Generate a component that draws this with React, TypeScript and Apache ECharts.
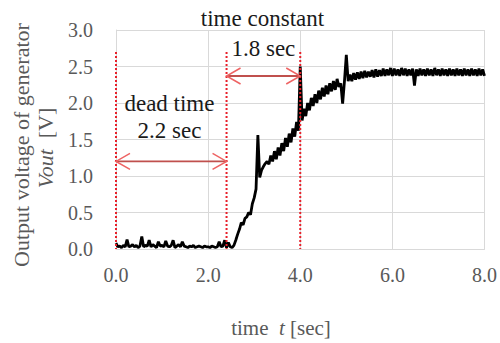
import React, { useEffect, useRef } from "react";
import * as echarts from "echarts";

// Sampling interval of the recorded trace [sec]
const SAMPLE_STEP = 0.04;

// Generator output voltage [V], one sample every SAMPLE_STEP seconds, from t = 0 to 8 s
const voltage: number[] = [
  // dead time (0 – 2.52 s)
  0.08, 0.03, 0.04, 0.02, 0.05, 0.03, 0.13, 0.03, 0.04, 0.06, 0.03, 0.05, 0.02, 0.04, 0.17, 0.03, 0.05, 0.04, 0.12, 0.03,
  0.06, 0.04, 0.02, 0.10, 0.04, 0.05, 0.03, 0.11, 0.04, 0.03, 0.05, 0.12, 0.02, 0.04, 0.06, 0.03, 0.10, 0.04, 0.03, 0.02,
  0.04, 0.03, 0.05, 0.02, 0.03, 0.04, 0.03, 0.02, 0.04, 0.03, 0.03, 0.02, 0.04, 0.03, 0.02, 0.03, 0.10, 0.03, 0.04, 0.12,
  0.02, 0.09, 0.03, 0.02,
  // rise (2.56 – 5.04 s)
  0.05, 0.12, 0.20, 0.27, 0.36, 0.33, 0.42, 0.44, 0.50, 0.47,
  0.62, 0.70, 0.82, 1.56, 0.98, 1.08, 1.13, 1.17, 1.20, 1.16,
  1.28, 1.20, 1.34, 1.23, 1.39, 1.28, 1.45, 1.34, 1.52, 1.40,
  1.58, 1.46, 1.65, 1.54, 1.74, 1.62, 2.50, 1.76, 1.92, 1.82,
  2.00, 1.90, 2.07, 1.96, 2.12, 2.00, 2.17, 2.05, 2.21, 2.09,
  2.24, 2.12, 2.27, 2.16, 2.30, 2.18, 2.33, 2.22, 2.27, 1.99,
  2.30, 2.66, 2.30,
  // steady state (5.08 – 8.0 s)
  2.39, 2.30, 2.41, 2.32, 2.42, 2.33, 2.43, 2.34, 2.44, 2.35,
  2.43, 2.36, 2.45, 2.35, 2.46, 2.36, 2.45, 2.37, 2.47, 2.37,
  2.46, 2.38, 2.48, 2.37, 2.47, 2.38, 2.46, 2.37, 2.48, 2.38,
  2.47, 2.37, 2.46, 2.38, 2.47, 2.24, 2.46, 2.37, 2.47, 2.38,
  2.46, 2.37, 2.47, 2.38, 2.46, 2.37, 2.48, 2.38, 2.46, 2.37,
  2.47, 2.38, 2.46, 2.37, 2.47, 2.38, 2.46, 2.37, 2.47, 2.38,
  2.46, 2.37, 2.47, 2.38, 2.46, 2.37, 2.47, 2.38, 2.46, 2.37,
  2.47, 2.38, 2.46, 2.37,
];

// Red dotted marker lines: time [sec] and height [V]
const markerTimes = [0.0, 2.4, 4.0];
const markerTop = 2.7;

// Double arrows: [start time, end time, level V]
const arrows: [number, number, number][] = [
  [0.0, 2.4, 1.2],
  [2.4, 4.0, 2.37],
];

// Annotation texts: [time, level, label]
const annotations: [number, number, string][] = [
  [3.18, 3.16, "time constant"],
  [3.2, 2.74, "1.8 sec"],
  [1.16, 1.99, "dead time"],
  [1.16, 1.62, "2.2 sec"],
];

const xTicks = { min: 0, max: 8, interval: 2 };
const yTicks = { min: 0, max: 3, interval: 0.5 };

const SERIF = "Liberation Serif";
const GRAY = "#595959";

export default function App() {
  const ref = useRef<HTMLDivElement>(null);

  useEffect(() => {
    if (!ref.current) return;
    const chart = echarts.init(ref.current, undefined, { renderer: "svg" });

    const trace = voltage.map((v, i) => [+(i * SAMPLE_STEP).toFixed(2), v]);

    chart.setOption({
      animation: false,
      backgroundColor: "#ffffff",
      textStyle: { fontFamily: SERIF },
      grid: { left: 116, right: 15, top: 30, bottom: 94 },
      xAxis: {
        type: "value",
        ...xTicks,
        axisLine: { show: true, lineStyle: { color: "#d9d9d9", width: 1 } },
        axisTick: { show: false },
        splitLine: { show: true, lineStyle: { color: "#d9d9d9", width: 1 } },
        axisLabel: {
          color: GRAY,
          fontFamily: SERIF,
          fontSize: 20,
          margin: 16,
          formatter: (v: number) => v.toFixed(1),
        },
      },
      yAxis: {
        type: "value",
        ...yTicks,
        axisLine: { show: true, lineStyle: { color: "#d9d9d9", width: 1 } },
        axisTick: { show: false },
        splitLine: { show: true, lineStyle: { color: "#d9d9d9", width: 1 } },
        axisLabel: {
          color: GRAY,
          fontFamily: SERIF,
          fontSize: 20,
          margin: 23,
          formatter: (v: number) => v.toFixed(1),
        },
      },
      graphic: [
        {
          type: "text",
          x: 21,
          y: 145,
          rotation: Math.PI / 2,
          style: {
            text: "Output voltage of generator",
            fill: GRAY,
            fontFamily: SERIF,
            fontSize: 22,
            align: "center",
            verticalAlign: "middle",
          },
        },
        {
          type: "text",
          x: 45,
          y: 148,
          rotation: Math.PI / 2,
          style: {
            text: "{it|Vout}  [V]",
            fill: GRAY,
            fontFamily: SERIF,
            fontSize: 22,
            align: "center",
            verticalAlign: "middle",
            rich: {
              it: { fontStyle: "italic", fontFamily: SERIF, fontSize: 22, fill: GRAY },
            },
          },
        },
        {
          type: "text",
          x: 281,
          y: 328,
          style: {
            text: "time  {it|t} [sec]",
            fill: GRAY,
            fontFamily: SERIF,
            fontSize: 21,
            align: "center",
            verticalAlign: "middle",
            rich: {
              it: { fontStyle: "italic", fontFamily: SERIF, fontSize: 21, fill: GRAY },
            },
          },
        },
      ],
      series: [
        {
          type: "line",
          data: trace,
          showSymbol: false,
          symbol: "none",
          lineStyle: { color: "#000000", width: 2.8 },
          z: 3,
        },
        {
          type: "custom",
          clip: false,
          z: 4,
          data: markerTimes.map((t) => [t, markerTop]),
          renderItem: (params: any, api: any) => {
            const top = api.coord([api.value(0), api.value(1)]);
            const bottom = api.coord([api.value(0), 0]);
            return {
              type: "line",
              shape: { x1: top[0], y1: top[1], x2: bottom[0], y2: bottom[1] },
              style: { stroke: "#e8202a", lineWidth: 2, lineDash: [2, 2] },
            };
          },
        },
        {
          type: "custom",
          clip: false,
          z: 5,
          data: arrows,
          renderItem: (params: any, api: any) => {
            const a = api.coord([api.value(0), api.value(2)]);
            const b = api.coord([api.value(1), api.value(2)]);
            const L = 14;
            const H = 8;
            return {
              type: "group",
              children: [
                {
                  type: "line",
                  shape: { x1: a[0], y1: a[1], x2: b[0], y2: b[1] },
                  style: { stroke: "#c0504d", lineWidth: 1.8 },
                },
                {
                  type: "polyline",
                  shape: { points: [[a[0] + L, a[1] - H], [a[0], a[1]], [a[0] + L, a[1] + H]] },
                  style: { stroke: "#ee6363", lineWidth: 1.5, fill: "none" },
                },
                {
                  type: "polyline",
                  shape: { points: [[b[0] - L, b[1] - H], [b[0], b[1]], [b[0] - L, b[1] + H]] },
                  style: { stroke: "#ee6363", lineWidth: 1.5, fill: "none" },
                },
              ],
            };
          },
        },
        {
          type: "custom",
          clip: false,
          z: 6,
          data: annotations.map((d) => [d[0], d[1]]),
          renderItem: (params: any, api: any) => {
            const p = api.coord([api.value(0), api.value(1)]);
            return {
              type: "text",
              x: p[0],
              y: p[1],
              style: {
                text: annotations[params.dataIndex][2],
                fill: "#1a1a1a",
                fontFamily: SERIF,
                fontSize: 23,
                align: "center",
                verticalAlign: "middle",
              },
            };
          },
        },
      ],
    });

    return () => chart.dispose();
  }, []);

  return <div ref={ref} style={{ width: 500, height: 343, position: "absolute", left: 0, top: 0 }} />;
}
